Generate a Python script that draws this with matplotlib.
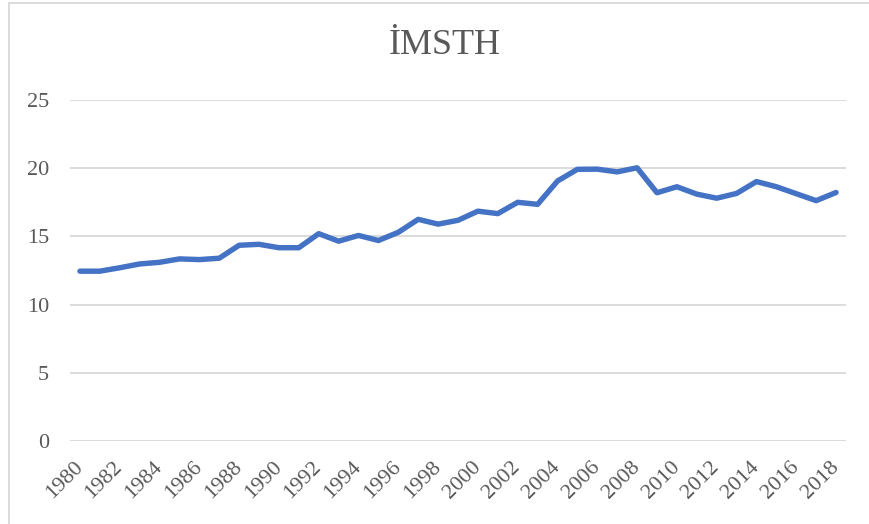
import matplotlib
matplotlib.use("Agg")
import matplotlib.pyplot as plt
from matplotlib.patches import Rectangle

years = list(range(1980, 2019))
imsth = [12.45, 12.45, 12.7, 12.98, 13.1, 13.35, 13.3, 13.4, 14.35, 14.42,
         14.17, 14.17, 15.2, 14.65, 15.07, 14.7, 15.3, 16.25, 15.9, 16.18,
         16.85, 16.67, 17.5, 17.35, 19.06, 19.92, 19.93, 19.73, 20.03, 18.2,
         18.64, 18.1, 17.8, 18.15, 19.02, 18.64, 18.13, 17.62, 18.22]
tick_years = years[::2]
y_ticks = [0, 5, 10, 15, 20, 25]

plt.rcParams['font.family'] = ['Liberation Serif', 'DejaVu Serif']
text_col = "#595959"
grid_col = "#d9d9d9"

fig = plt.figure(figsize=(8.7, 5.24), dpi=100)
ax = fig.add_axes([70 / 870, 1 - 441 / 524, 776 / 870, 341 / 524])

ax.plot(years, imsth, color="#4472C4", linewidth=3.9, solid_joinstyle="round",
        solid_capstyle="round")

ax.set_xlim(1979.5, 2018.5)
ax.set_ylim(0, 25)
ax.set_yticks(y_ticks)
ax.set_xticks(tick_years)
ax.set_xticklabels([str(y) for y in tick_years], rotation=45, ha="right",
                   va="center", rotation_mode="anchor")
ax.yaxis.grid(True, color=grid_col, linewidth=1.3)
ax.set_axisbelow(True)
for s in ax.spines.values():
    s.set_visible(False)
ax.tick_params(axis="y", length=0, pad=15, labelsize=16, labelcolor=text_col)
ax.tick_params(axis="x", length=0, pad=17, labelsize=16, labelcolor=text_col)

fig.text(445 / 870, 1 - 46 / 524, "İMSTH", ha="center", va="center",
         fontsize=26, color=text_col)

# chart area border
fig.patches.append(Rectangle((9 / 870, -0.1), 1.2, 1.1 - 3.5 / 524,
                             transform=fig.transFigure, fill=False,
                             edgecolor=grid_col, linewidth=1.3))

fig.savefig("out.png", dpi=100)
